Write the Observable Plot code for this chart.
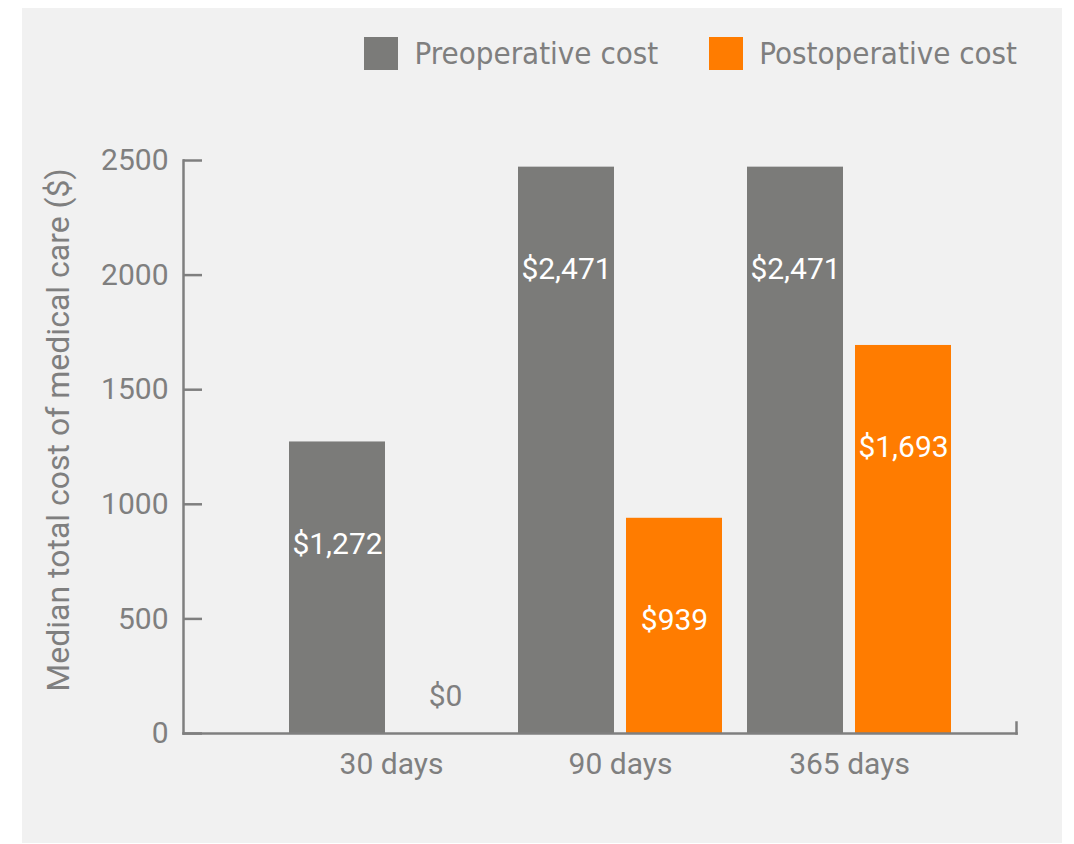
<!DOCTYPE html>
<html><head><meta charset="utf-8">
<script src="https://cdn.jsdelivr.net/npm/d3@7"></script>
<script src="https://cdn.jsdelivr.net/npm/@observablehq/plot@0.6"></script>
<style>
html,body{margin:0;padding:0;background:#fff;}
#panel{position:absolute;left:22px;top:8px;width:1040px;height:835px;background:#f1f1f1;}
#legend{height:100px;display:flex;justify-content:flex-end;align-items:flex-start;padding-right:45px;box-sizing:border-box;padding-top:27px;font-family:"Liberation Sans Narrow","DejaVu Sans Condensed",sans-serif;font-stretch:condensed;font-size:31px;color:#7f7f7f;}
.item{display:flex;align-items:center;margin-left:51px;}
.sw{width:34px;height:33px;margin-right:16px;}
</style></head><body>
<div id="panel"><div id="legend"></div><div id="chart"></div></div>
<script>
const periods = ["30 days", "90 days", "365 days"];
const preoperative = [1272, 2471, 2471];
const postoperative = [0, 939, 1693];
const seriesNames = ["Preoperative cost", "Postoperative cost"];
const seriesColors = ["#7b7b79", "#ff7c00"];
const yTicks = [0, 500, 1000, 1500, 2000, 2500];
const yTitle = "Median total cost of medical care ($)";

const gray = "#7f7f7f";
const data = periods.map((p, i) => ({period: p, pre: preoperative[i], post: postoperative[i]}));
const fmt = v => "$" + d3.format(",")(v);

const legend = document.getElementById("legend");
seriesNames.forEach((name, i) => {
  const item = document.createElement("div");
  item.className = "item";
  const sw = document.createElement("div");
  sw.className = "sw";
  sw.style.background = seriesColors[i];
  const label = document.createElement("span");
  label.textContent = name;
  item.appendChild(sw);
  item.appendChild(label);
  legend.appendChild(item);
});

const chart = Plot.plot({
  width: 1040,
  height: 735,
  marginLeft: 161,
  marginRight: 46,
  marginTop: 52,
  marginBottom: 110,
  style: {background: "transparent", fontFamily: "Roboto, sans-serif", fontSize: "30px", color: gray, overflow: "visible"},
  x: {domain: periods, range: [266, 929], paddingInner: 0.111, paddingOuter: 0, label: null},
  y: {domain: [0, 2500], label: null},
  marks: [
    Plot.barY(data, {x: "period", y: "pre", fill: seriesColors[0], insetRight: 108}),
    Plot.barY(data, {x: "period", y: "post", fill: seriesColors[1], insetLeft: 108}),
    Plot.frame({anchor: "left", stroke: gray, strokeWidth: 2.5}),
    Plot.frame({anchor: "bottom", stroke: gray, strokeWidth: 2.5}),
    Plot.frame({anchor: "right", insetTop: 562, stroke: gray, strokeWidth: 2.5}),
    Plot.axisY({ticks: yTicks, tickSize: -19, tickPadding: 34, tickFormat: d => String(d), stroke: gray, strokeWidth: 2.5, fill: gray, fontSize: 30, label: null}),
    Plot.axisX({tickSize: 0, tickPadding: 19, fill: gray, fontSize: 30, label: null}),
    Plot.text(data.filter(d => d.pre > 0), {x: "period", y: "pre", text: d => fmt(d.pre), dx: -54, dy: 102, fill: "white", fontSize: 30}),
    Plot.text(data.filter(d => d.post > 0), {x: "period", y: "post", text: d => fmt(d.post), dx: 54, dy: 102, fill: "white", fontSize: 30}),
    Plot.text(data.filter(d => d.post === 0), {x: "period", y: "post", text: d => fmt(d.post), dx: 54, dy: -37, fill: gray, fontSize: 30}),
    Plot.text([yTitle], {text: d => d, frameAnchor: "left", textAnchor: "middle", rotate: -90, dx: -125, dy: -17, fill: gray, fontSize: 32})
  ]
});
document.getElementById("chart").appendChild(chart);
</script>
</body></html>
